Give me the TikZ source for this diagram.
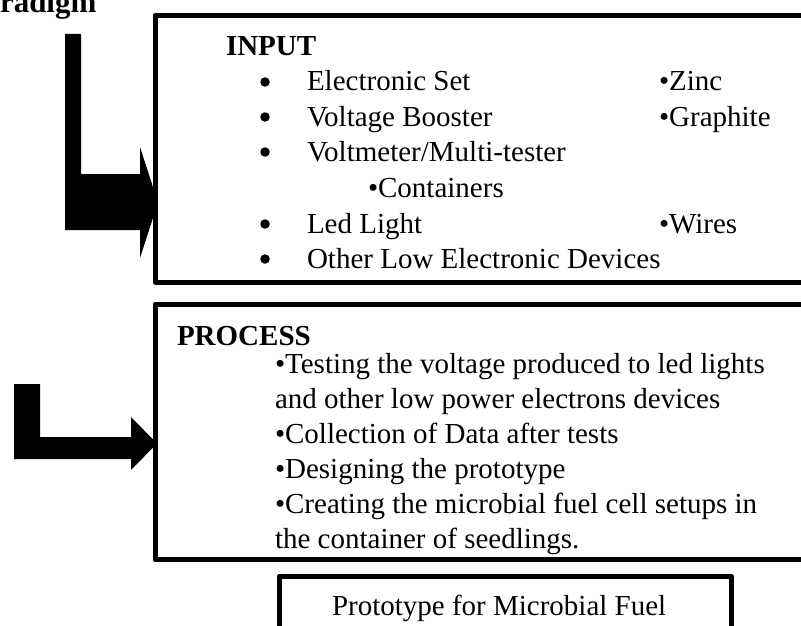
\documentclass[tikz,border=0pt]{standalone}
\usepackage{fontspec}
\setmainfont{Liberation Serif}
\begin{document}
\begin{tikzpicture}[x=1pt,y=-1pt,
  txt/.style={anchor=base west, inner sep=0pt, outer sep=0pt, font=\fontsize{29}{35}\selectfont},
  hdr/.style={txt, font=\fontsize{29}{35}\selectfont\bfseries},
  bul/.style={inner sep=0pt, outer sep=0pt, circle, fill=black, minimum size=9.5pt},
  box/.style={draw, line width=5pt, fill=white, inner sep=0pt, outer sep=0pt, anchor=north west, line join=round},
  blockarrow/.style={fill=black, draw=none}]
\useasboundingbox (0,0) rectangle (801,626);

% heading fragment
\node[txt, font=\fontsize{31}{35}\selectfont\bfseries] (title) at (0,13) {radigm};

% block arrows (drawn first, boxes cover their tips)
\fill[blockarrow] (65,34) -- (81,34) -- (81,174) -- (140,174) -- (140,147) -- (158,202.5)
  -- (140,258) -- (140,230) -- (65,230) -- cycle;
\fill[blockarrow] (14,384) -- (40,384) -- (40,437) -- (131,437) -- (131,417) -- (157,443.5)
  -- (131,470) -- (131,459) -- (14,459) -- cycle;

% boxes
\node[box, minimum width=680pt, minimum height=266.5pt] (input) at (155,15.5) {};
\node[box, minimum width=680pt, minimum height=255pt] (process) at (155,304.5) {};
\node[box, minimum width=451.5pt, minimum height=90pt] (proto) at (279.5,576) {};

% INPUT content
\node[hdr] (inhdr) at (226,56) {INPUT};
\foreach \y/\t [count=\i] in {91/Electronic Set, 126/Voltage Booster, 161/Voltmeter\slash Multi-tester, 233/Led Light, 268/Other Low Electronic Devices}{
  \node[bul] (ib\i) at (265,{\y-9}) {};
  \node[txt] (it\i) at (307,\y) {\t};
}
\node[txt] (cont) at (368,197) {\textbullet Containers};
\node[txt] (zinc) at (659,91) {\textbullet Zinc};
\node[txt] (graph) at (659,126) {\textbullet Graphite};
\node[txt] (wires) at (659,233) {\textbullet Wires};

% PROCESS content
\node[hdr] (prhdr) at (177,345) {PROCESS};
\node[txt] (p1) at (275,373) {\textbullet Testing the voltage produced to led lights};
\node[txt] (p2) at (275,408) {and other low power electrons devices};
\node[txt] (p3) at (275,443) {\textbullet Collection of Data after tests};
\node[txt] (p4) at (275,478) {\textbullet Designing the prototype};
\node[txt] (p5) at (275,513) {\textbullet Creating the microbial fuel cell setups in};
\node[txt] (p6) at (275,548) {the container of seedlings.};

% redraw bottom border of process box over the descenders
\draw[line width=5pt] (process.south west) -- (process.south east);

% prototype content
\node[txt] (pt) at (332,615) {Prototype for Microbial Fuel};
\end{tikzpicture}
\end{document}
